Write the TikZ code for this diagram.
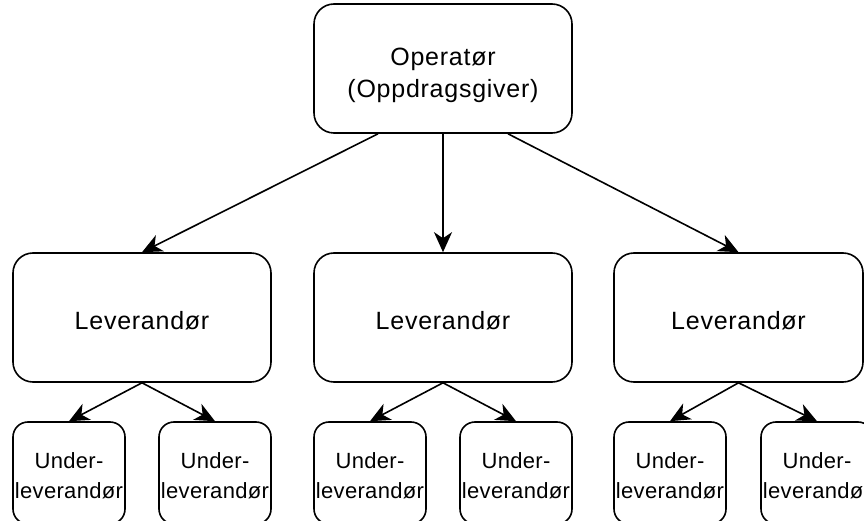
\documentclass[tikz,border=0pt]{standalone}
\usepackage{fontspec}
\setmainfont{Liberation Sans}
\usetikzlibrary{arrows.meta}
\begin{document}
\begin{tikzpicture}[x=1pt,y=-1pt,
  bigbox/.style={draw,line width=1.6pt,rounded corners=20pt,inner sep=0pt,align=center,
     minimum width=258pt,minimum height=129pt,font=\fontsize{25}{32}\selectfont\addfontfeatures{LetterSpace=3}},
  subbox/.style={draw,line width=1.6pt,rounded corners=15pt,inner sep=0pt,align=center,
     minimum width=112pt,minimum height=102pt,text height=52pt,font=\fontsize{22}{30}\selectfont\addfontfeatures{LetterSpace=1.5}},
  arr/.style={line width=1.6pt,-{Stealth[length=20pt,width=18pt,inset=6pt]}}]
\useasboundingbox (0,0) rectangle (864,521);
\clip (0,0) rectangle (864,521);
\node[bigbox,text height=64pt] (op) at (443,68.5) {Operatør\\(Oppdragsgiver)};
\node[bigbox,text height=24pt] (l1) at (142,317.5) {Leverandør};
\node[bigbox,text height=24pt] (l2) at (443,317.5) {Leverandør};
\node[bigbox,text height=24pt,minimum width=249pt] (l3) at (738.5,317.5) {Leverandør};
\node[subbox] (s1) at (69,473) {Under-\\leverandør};
\node[subbox] (s2) at (215,473) {Under-\\leverandør};
\node[subbox] (s3) at (370,473) {Under-\\leverandør};
\node[subbox] (s4) at (516,473) {Under-\\leverandør};
\node[subbox] (s5) at (670,473) {Under-\\leverandør};
\node[subbox] (s6) at (817,473) {Under-\\leverandør};
\draw[arr] ([xshift=-65pt]op.south) -- (l1.north);
\draw[arr] (op.south) -- (l2.north);
\draw[arr] ([xshift=65pt]op.south) -- (l3.north);
\draw[arr] (l1.south) -- (s1.north);
\draw[arr] (l1.south) -- (s2.north);
\draw[arr] (l2.south) -- (s3.north);
\draw[arr] (l2.south) -- (s4.north);
\draw[arr] (l3.south) -- (s5.north);
\draw[arr] (l3.south) -- (s6.north);
\end{tikzpicture}
\end{document}
